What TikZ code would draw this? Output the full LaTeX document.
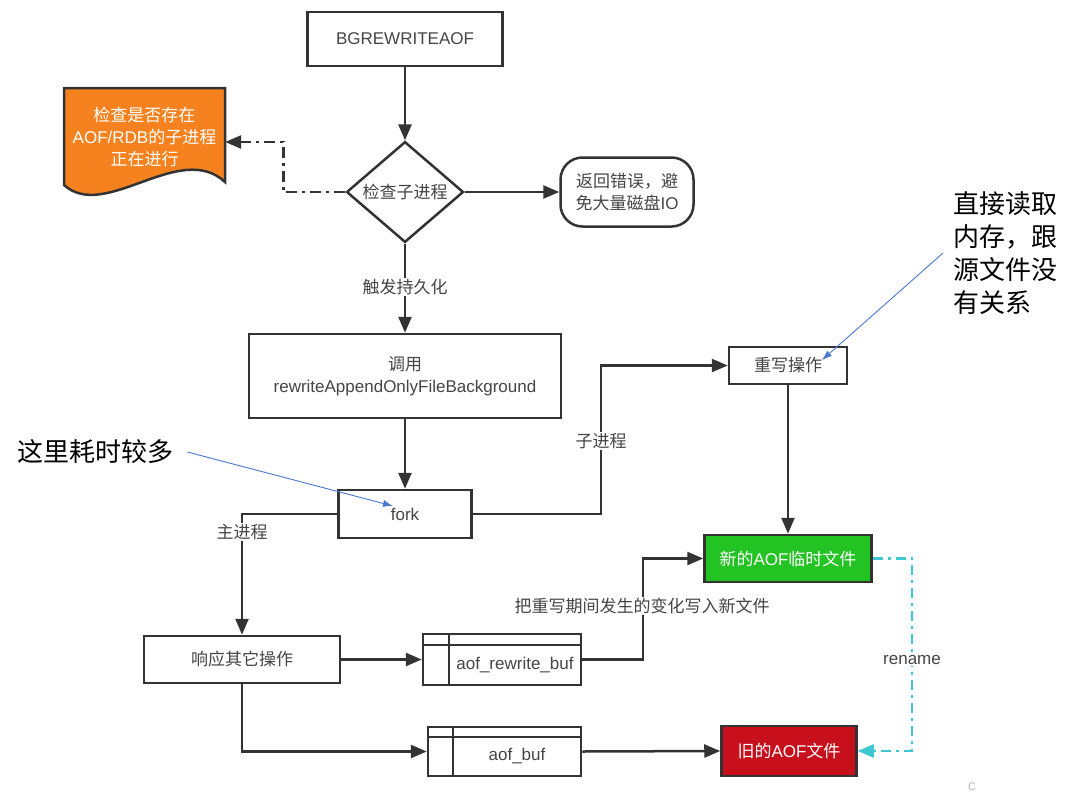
\documentclass[tikz,border=0pt]{standalone}
\usepackage{fontspec}
\setmainfont{Liberation Sans}
\newfontfamily\cjk{Noto Sans CJK SC}
\newcommand\zh[1]{{\cjk #1}}
\usetikzlibrary{arrows.meta,shapes.geometric}
\definecolor{ln}{HTML}{333333}
\definecolor{tx}{HTML}{454545}
\definecolor{orangefill}{HTML}{F5821F}
\definecolor{greenfill}{HTML}{22C322}
\definecolor{redfill}{HTML}{C8101C}
\definecolor{cyanl}{HTML}{3EC9D2}
\definecolor{bluel}{HTML}{4A78D0}
\newcommand\fs{\fontsize{17}{22}\selectfont}
\tikzset{
  box/.style={draw=ln, line width=2.5pt, fill=white, text=tx, font=\fs, inner sep=0pt, align=center},
  arr/.style={draw=ln, line width=2.5pt, -{Triangle[length=16pt,width=13pt]}},
  dd/.style={draw=ln, line width=2.5pt, dash pattern=on 11pt off 5pt on 3pt off 5pt, -{Triangle[length=16pt,width=13pt]}},
  cy/.style={draw=cyanl, line width=2.5pt, dash pattern=on 10pt off 5pt on 3pt off 5pt, -{Triangle[length=16pt,width=13pt,fill=cyanl]}},
  lbl/.style={fill=white, text=tx, font=\fs, inner sep=1pt},
  note/.style={text=black, font=\fontsize{26}{33}\selectfont\cjk, inner sep=0pt},
  bluearr/.style={draw=bluel, line width=0.9pt, -{Latex[length=10pt,width=7pt]}},
}
\begin{document}
\begin{tikzpicture}[x=1pt,y=-1pt]
\useasboundingbox[fill=white] (0,0) rectangle (1080,804);

% orange document shape
\filldraw[fill=orangefill, draw=ln, line width=2.5pt]
  (64,88) -- (225,88) -- (225,182) .. controls (180,140) and (105,222) .. (64,185) -- cycle;
\node[text=white, font=\fs, align=center, minimum width=161pt, minimum height=94pt, inner sep=0pt] (doc) at (144.5,137)
  {\zh{检查是否存在}\\AOF/RDB\zh{的子进程}\\\zh{正在进行}};

% nodes
\node[box, minimum width=195pt, minimum height=54pt] (bg) at (405,39) {BGREWRITEAOF};
\node[box, shape=diamond, minimum width=117pt, minimum height=94pt] (chk) at (405,192) {\zh{检查子进程}};
\node[box, rounded corners=22pt, minimum width=133pt, minimum height=69pt] (ret) at (627,192) {\zh{返回错误，避}\\\zh{免大量磁盘}IO};
\node[box, minimum width=312pt, minimum height=84pt] (call) at (405,376) {\zh{调用}\\rewriteAppendOnlyFileBackground};
\node[box, minimum width=133pt, minimum height=48pt] (fork) at (405,514) {fork};
\node[box, minimum width=118pt, minimum height=37pt] (rw) at (788,365.5) {\zh{重写操作}};
\node[box, fill=greenfill, text=white, minimum width=167pt, minimum height=47pt] (green) at (788,558.5) {\zh{新的}AOF\zh{临时文件}};
\node[box, minimum width=196pt, minimum height=47pt] (main) at (242,659.5) {\zh{响应其它操作}};
\node[box, minimum width=158pt, minimum height=51pt] (arb) at (502,659.5) {};
\draw[ln, line width=2.5pt] (423,645) -- (581,645) (449,634) -- (449,685);
\node[text=tx, font=\fs, inner sep=0pt] (arbt) at (515,665) {aof\_rewrite\_buf};
\node[box, minimum width=153pt, minimum height=49pt] (ab) at (504.5,751.5) {};
\draw[ln, line width=2.5pt] (428,737) -- (581,737) (453,727) -- (453,776);
\node[text=tx, font=\fs, inner sep=0pt] (abt) at (517,756) {aof\_buf};
\node[box, fill=redfill, text=white, minimum width=135pt, minimum height=50pt] (red) at (789,751) {\zh{旧的}AOF\zh{文件}};

% connectors
\draw[arr] (bg) -- (chk);
\draw[arr] (chk) -- (ret);
\draw[dd] (chk.west) -- ++(-62,0) |- ([yshift=-5pt]doc.east);
\draw[arr] (chk) -- (call);
\draw[arr] (call) -- (fork);
\draw[arr] (fork.west) -| (main.north);
\draw[arr] (fork.east) -- (601,514) |- (rw.west);
\draw[arr] (rw) -- (green);
\draw[arr] (main) -- (arb);
\draw[arr] (main.south) |- (ab.west);
\draw[arr] (arb.east) -- (643,659.5) |- (green.west);
\draw[arr] (ab.east) -- (red.west);
\draw[cy] (green.east) -- (912,558.5) |- (red.east);

% labels on connectors
\node[lbl] (l1) at (405,287) {\zh{触发持久化}};
\node[lbl] (l2) at (242,532) {\zh{主进程}};
\node[lbl] (l3) at (601,441) {\zh{子进程}};
\node[lbl] (l4) at (642,606) {\zh{把重写期间发生的变化写入新文件}};
\node[lbl] (l5) at (912,660) {rename};

% annotations
\node[note, anchor=west] (n1) at (17,452) {这里耗时较多};
\node[note, anchor=west, align=left] (n2) at (953,253) {直接读取\\内存，跟\\源文件没\\有关系};
\coordinate (t1) at (393,506);
\coordinate (t2) at (822,360);
\draw[bluearr] ([xshift=14pt]n1.east) -- (t1);
\draw[bluearr] ([xshift=-10pt]n2.west) -- (t2);

\node[text=gray!60, font=\fontsize{11}{11}\selectfont, inner sep=0pt] (wm) at (972,787) {C};
\end{tikzpicture}
\end{document}
